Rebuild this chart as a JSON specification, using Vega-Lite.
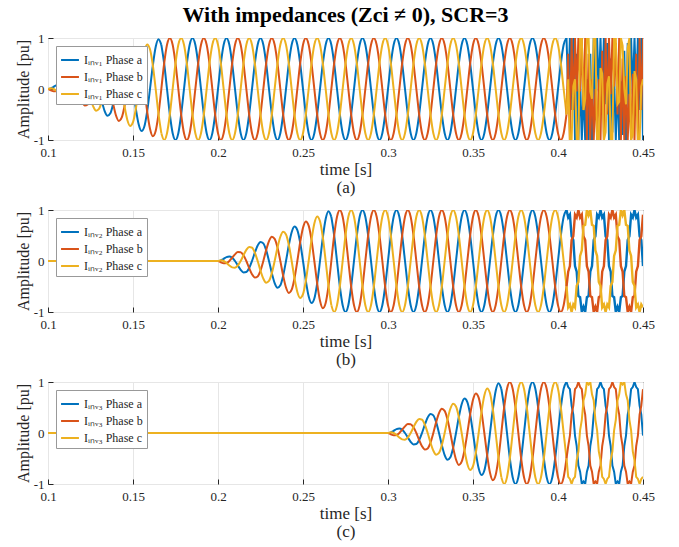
{
"$schema": "https://vega.github.io/schema/vega-lite/v6.json",
"background": "white",
"padding": {"left": 14, "top": 3, "right": 5, "bottom": 2},
"config": {
  "font": "Liberation Serif",
  "view": {"stroke": "#000000", "strokeWidth": 1},
  "axis": {"labelFont": "Liberation Serif", "titleFont": "Liberation Serif", "labelFontSize": 13, "titleFontSize": 16, "labelColor": "#262626", "titleColor": "#262626", "titleFontWeight": "normal", "grid": true, "gridColor": "#e6e6e6", "domain": false, "tickColor": "#262626", "tickSize": -5, "labelPadding": 9, "labelFlush": false},
  "legend": {"orient": "top-left", "offset": 8, "padding": 4, "fillColor": "white", "strokeColor": "#999999", "strokeWidth": 1, "symbolType": "stroke", "symbolStrokeWidth": 2, "symbolSize": 320, "labelFont": "Liberation Serif", "labelFontSize": 12, "labelColor": "#262626", "rowPadding": 1},
  "concat": {"spacing": 7}
},
"datasets": {
"r1": [
{"t":0.1,"a":0,"b":0,"c":0},
{"t":0.10167,"a":0.013,"b":-0.025,"c":0.013},
{"t":0.10333,"a":0.043,"b":-0.043,"c":0},
{"t":0.105,"a":0.075,"b":-0.038,"c":-0.038},
{"t":0.10667,"a":0.087,"b":0,"c":-0.087},
{"t":0.10833,"a":0.063,"b":0.063,"c":-0.125},
{"t":0.11,"a":0,"b":0.13,"c":-0.13},
{"t":0.11167,"a":-0.088,"b":0.175,"c":-0.088},
{"t":0.11333,"a":-0.173,"b":0.173,"c":0},
{"t":0.115,"a":-0.225,"b":0.113,"c":0.113},
{"t":0.11667,"a":-0.217,"b":0,"c":0.217},
{"t":0.11833,"a":-0.138,"b":-0.138,"c":0.275},
{"t":0.12,"a":0,"b":-0.26,"c":0.26},
{"t":0.12167,"a":0.163,"b":-0.325,"c":0.163},
{"t":0.12333,"a":0.303,"b":-0.303,"c":0},
{"t":0.125,"a":0.375,"b":-0.188,"c":-0.188},
{"t":0.12667,"a":0.346,"b":0,"c":-0.346},
{"t":0.12833,"a":0.213,"b":0.213,"c":-0.425},
{"t":0.13,"a":0,"b":0.39,"c":-0.39},
{"t":0.13167,"a":-0.238,"b":0.475,"c":-0.238},
{"t":0.13333,"a":-0.433,"b":0.433,"c":0},
{"t":0.135,"a":-0.525,"b":0.263,"c":0.263},
{"t":0.13667,"a":-0.476,"b":0,"c":0.476},
{"t":0.13833,"a":-0.288,"b":-0.288,"c":0.575},
{"t":0.14,"a":0,"b":-0.52,"c":0.52},
{"t":0.14167,"a":0.313,"b":-0.625,"c":0.313},
{"t":0.14333,"a":0.563,"b":-0.563,"c":0},
{"t":0.145,"a":0.675,"b":-0.338,"c":-0.338},
{"t":0.14667,"a":0.606,"b":0,"c":-0.606},
{"t":0.14833,"a":0.363,"b":0.363,"c":-0.725},
{"t":0.15,"a":0,"b":0.65,"c":-0.65},
{"t":0.15167,"a":-0.388,"b":0.775,"c":-0.388},
{"t":0.15333,"a":-0.693,"b":0.693,"c":0},
{"t":0.155,"a":-0.825,"b":0.413,"c":0.413},
{"t":0.15667,"a":-0.736,"b":0,"c":0.736},
{"t":0.15833,"a":-0.438,"b":-0.438,"c":0.875},
{"t":0.16,"a":0,"b":-0.779,"c":0.779},
{"t":0.16167,"a":0.463,"b":-0.925,"c":0.463},
{"t":0.16333,"a":0.823,"b":-0.823,"c":0},
{"t":0.165,"a":0.975,"b":-0.488,"c":-0.488},
{"t":0.16667,"a":0.866,"b":0,"c":-0.866}
],
"r2": [
{"t":0.1,"a":0,"b":0,"c":0},
{"t":0.2,"a":0,"b":0,"c":0},
{"t":0.20167,"a":0.013,"b":-0.025,"c":0.013},
{"t":0.20333,"a":0.043,"b":-0.043,"c":0},
{"t":0.205,"a":0.075,"b":-0.038,"c":-0.038},
{"t":0.20667,"a":0.087,"b":0,"c":-0.087},
{"t":0.20833,"a":0.063,"b":0.063,"c":-0.125},
{"t":0.21,"a":0,"b":0.13,"c":-0.13},
{"t":0.21167,"a":-0.088,"b":0.175,"c":-0.088},
{"t":0.21333,"a":-0.173,"b":0.173,"c":0},
{"t":0.215,"a":-0.225,"b":0.113,"c":0.113},
{"t":0.21667,"a":-0.217,"b":0,"c":0.217},
{"t":0.21833,"a":-0.138,"b":-0.138,"c":0.275},
{"t":0.22,"a":0,"b":-0.26,"c":0.26},
{"t":0.22167,"a":0.163,"b":-0.325,"c":0.163},
{"t":0.22333,"a":0.303,"b":-0.303,"c":0},
{"t":0.225,"a":0.375,"b":-0.188,"c":-0.188},
{"t":0.22667,"a":0.346,"b":0,"c":-0.346},
{"t":0.22833,"a":0.213,"b":0.213,"c":-0.425},
{"t":0.23,"a":0,"b":0.39,"c":-0.39},
{"t":0.23167,"a":-0.238,"b":0.475,"c":-0.238},
{"t":0.23333,"a":-0.433,"b":0.433,"c":0},
{"t":0.235,"a":-0.525,"b":0.263,"c":0.263},
{"t":0.23667,"a":-0.476,"b":0,"c":0.476},
{"t":0.23833,"a":-0.288,"b":-0.288,"c":0.575},
{"t":0.24,"a":0,"b":-0.52,"c":0.52},
{"t":0.24167,"a":0.313,"b":-0.625,"c":0.313},
{"t":0.24333,"a":0.563,"b":-0.563,"c":0},
{"t":0.245,"a":0.675,"b":-0.338,"c":-0.338},
{"t":0.24667,"a":0.606,"b":0,"c":-0.606},
{"t":0.24833,"a":0.363,"b":0.363,"c":-0.725},
{"t":0.25,"a":0,"b":0.65,"c":-0.65},
{"t":0.25167,"a":-0.388,"b":0.775,"c":-0.388},
{"t":0.25333,"a":-0.693,"b":0.693,"c":0},
{"t":0.255,"a":-0.825,"b":0.413,"c":0.413},
{"t":0.25667,"a":-0.736,"b":0,"c":0.736},
{"t":0.25833,"a":-0.438,"b":-0.438,"c":0.875},
{"t":0.26,"a":0,"b":-0.779,"c":0.779},
{"t":0.26167,"a":0.463,"b":-0.925,"c":0.463},
{"t":0.26333,"a":0.823,"b":-0.823,"c":0},
{"t":0.265,"a":0.975,"b":-0.488,"c":-0.488},
{"t":0.26667,"a":0.866,"b":0,"c":-0.866}
],
"r3": [
{"t":0.1,"a":0,"b":0,"c":0},
{"t":0.3,"a":0,"b":0,"c":0},
{"t":0.30167,"a":0.013,"b":-0.025,"c":0.013},
{"t":0.30333,"a":0.043,"b":-0.043,"c":0},
{"t":0.305,"a":0.075,"b":-0.038,"c":-0.038},
{"t":0.30667,"a":0.087,"b":0,"c":-0.087},
{"t":0.30833,"a":0.063,"b":0.063,"c":-0.125},
{"t":0.31,"a":0,"b":0.13,"c":-0.13},
{"t":0.31167,"a":-0.088,"b":0.175,"c":-0.088},
{"t":0.31333,"a":-0.173,"b":0.173,"c":0},
{"t":0.315,"a":-0.225,"b":0.113,"c":0.113},
{"t":0.31667,"a":-0.217,"b":0,"c":0.217},
{"t":0.31833,"a":-0.138,"b":-0.138,"c":0.275},
{"t":0.32,"a":0,"b":-0.26,"c":0.26},
{"t":0.32167,"a":0.163,"b":-0.325,"c":0.163},
{"t":0.32333,"a":0.303,"b":-0.303,"c":0},
{"t":0.325,"a":0.375,"b":-0.188,"c":-0.188},
{"t":0.32667,"a":0.346,"b":0,"c":-0.346},
{"t":0.32833,"a":0.213,"b":0.213,"c":-0.425},
{"t":0.33,"a":0,"b":0.39,"c":-0.39},
{"t":0.33167,"a":-0.238,"b":0.475,"c":-0.238},
{"t":0.33333,"a":-0.433,"b":0.433,"c":0},
{"t":0.335,"a":-0.525,"b":0.263,"c":0.263},
{"t":0.33667,"a":-0.476,"b":0,"c":0.476},
{"t":0.33833,"a":-0.288,"b":-0.288,"c":0.575},
{"t":0.34,"a":0,"b":-0.52,"c":0.52},
{"t":0.34167,"a":0.313,"b":-0.625,"c":0.313},
{"t":0.34333,"a":0.563,"b":-0.563,"c":0},
{"t":0.345,"a":0.675,"b":-0.338,"c":-0.338},
{"t":0.34667,"a":0.606,"b":0,"c":-0.606},
{"t":0.34833,"a":0.363,"b":0.363,"c":-0.725},
{"t":0.35,"a":0,"b":0.65,"c":-0.65},
{"t":0.35167,"a":-0.388,"b":0.775,"c":-0.388},
{"t":0.35333,"a":-0.693,"b":0.693,"c":0},
{"t":0.355,"a":-0.825,"b":0.413,"c":0.413},
{"t":0.35667,"a":-0.736,"b":0,"c":0.736},
{"t":0.35833,"a":-0.438,"b":-0.438,"c":0.875},
{"t":0.36,"a":0,"b":-0.779,"c":0.779},
{"t":0.36167,"a":0.463,"b":-0.925,"c":0.463},
{"t":0.36333,"a":0.823,"b":-0.823,"c":0},
{"t":0.365,"a":0.975,"b":-0.488,"c":-0.488},
{"t":0.36667,"a":0.866,"b":0,"c":-0.866}
],
"full": [
{"t":0.16667,"a":0.866,"b":0,"c":-0.866},
{"t":0.16833,"a":0.5,"b":0.5,"c":-1},
{"t":0.17,"a":0,"b":0.866,"c":-0.866},
{"t":0.17167,"a":-0.5,"b":1,"c":-0.5},
{"t":0.17333,"a":-0.866,"b":0.866,"c":0},
{"t":0.175,"a":-1,"b":0.5,"c":0.5},
{"t":0.17667,"a":-0.866,"b":0,"c":0.866},
{"t":0.17833,"a":-0.5,"b":-0.5,"c":1},
{"t":0.18,"a":0,"b":-0.866,"c":0.866},
{"t":0.18167,"a":0.5,"b":-1,"c":0.5},
{"t":0.18333,"a":0.866,"b":-0.866,"c":0},
{"t":0.185,"a":1,"b":-0.5,"c":-0.5},
{"t":0.18667,"a":0.866,"b":0,"c":-0.866},
{"t":0.18833,"a":0.5,"b":0.5,"c":-1},
{"t":0.19,"a":0,"b":0.866,"c":-0.866},
{"t":0.19167,"a":-0.5,"b":1,"c":-0.5},
{"t":0.19333,"a":-0.866,"b":0.866,"c":0},
{"t":0.195,"a":-1,"b":0.5,"c":0.5},
{"t":0.19667,"a":-0.866,"b":0,"c":0.866},
{"t":0.19833,"a":-0.5,"b":-0.5,"c":1},
{"t":0.2,"a":0,"b":-0.866,"c":0.866},
{"t":0.20167,"a":0.5,"b":-1,"c":0.5},
{"t":0.20333,"a":0.866,"b":-0.866,"c":0},
{"t":0.205,"a":1,"b":-0.5,"c":-0.5},
{"t":0.20667,"a":0.866,"b":0,"c":-0.866},
{"t":0.20833,"a":0.5,"b":0.5,"c":-1},
{"t":0.21,"a":0,"b":0.866,"c":-0.866},
{"t":0.21167,"a":-0.5,"b":1,"c":-0.5},
{"t":0.21333,"a":-0.866,"b":0.866,"c":0},
{"t":0.215,"a":-1,"b":0.5,"c":0.5},
{"t":0.21667,"a":-0.866,"b":0,"c":0.866},
{"t":0.21833,"a":-0.5,"b":-0.5,"c":1},
{"t":0.22,"a":0,"b":-0.866,"c":0.866},
{"t":0.22167,"a":0.5,"b":-1,"c":0.5},
{"t":0.22333,"a":0.866,"b":-0.866,"c":0},
{"t":0.225,"a":1,"b":-0.5,"c":-0.5},
{"t":0.22667,"a":0.866,"b":0,"c":-0.866},
{"t":0.22833,"a":0.5,"b":0.5,"c":-1},
{"t":0.23,"a":0,"b":0.866,"c":-0.866},
{"t":0.23167,"a":-0.5,"b":1,"c":-0.5},
{"t":0.23333,"a":-0.866,"b":0.866,"c":0},
{"t":0.235,"a":-1,"b":0.5,"c":0.5},
{"t":0.23667,"a":-0.866,"b":0,"c":0.866},
{"t":0.23833,"a":-0.5,"b":-0.5,"c":1},
{"t":0.24,"a":0,"b":-0.866,"c":0.866},
{"t":0.24167,"a":0.5,"b":-1,"c":0.5},
{"t":0.24333,"a":0.866,"b":-0.866,"c":0},
{"t":0.245,"a":1,"b":-0.5,"c":-0.5},
{"t":0.24667,"a":0.866,"b":0,"c":-0.866},
{"t":0.24833,"a":0.5,"b":0.5,"c":-1},
{"t":0.25,"a":0,"b":0.866,"c":-0.866},
{"t":0.25167,"a":-0.5,"b":1,"c":-0.5},
{"t":0.25333,"a":-0.866,"b":0.866,"c":0},
{"t":0.255,"a":-1,"b":0.5,"c":0.5},
{"t":0.25667,"a":-0.866,"b":0,"c":0.866},
{"t":0.25833,"a":-0.5,"b":-0.5,"c":1},
{"t":0.26,"a":0,"b":-0.866,"c":0.866},
{"t":0.26167,"a":0.5,"b":-1,"c":0.5},
{"t":0.26333,"a":0.866,"b":-0.866,"c":0},
{"t":0.265,"a":1,"b":-0.5,"c":-0.5},
{"t":0.26667,"a":0.866,"b":0,"c":-0.866},
{"t":0.26833,"a":0.5,"b":0.5,"c":-1},
{"t":0.27,"a":0,"b":0.866,"c":-0.866},
{"t":0.27167,"a":-0.5,"b":1,"c":-0.5},
{"t":0.27333,"a":-0.866,"b":0.866,"c":0},
{"t":0.275,"a":-1,"b":0.5,"c":0.5},
{"t":0.27667,"a":-0.866,"b":0,"c":0.866},
{"t":0.27833,"a":-0.5,"b":-0.5,"c":1},
{"t":0.28,"a":0,"b":-0.866,"c":0.866},
{"t":0.28167,"a":0.5,"b":-1,"c":0.5},
{"t":0.28333,"a":0.866,"b":-0.866,"c":0},
{"t":0.285,"a":1,"b":-0.5,"c":-0.5},
{"t":0.28667,"a":0.866,"b":0,"c":-0.866},
{"t":0.28833,"a":0.5,"b":0.5,"c":-1},
{"t":0.29,"a":0,"b":0.866,"c":-0.866},
{"t":0.29167,"a":-0.5,"b":1,"c":-0.5},
{"t":0.29333,"a":-0.866,"b":0.866,"c":0},
{"t":0.295,"a":-1,"b":0.5,"c":0.5},
{"t":0.29667,"a":-0.866,"b":0,"c":0.866},
{"t":0.29833,"a":-0.5,"b":-0.5,"c":1},
{"t":0.3,"a":0,"b":-0.866,"c":0.866},
{"t":0.30167,"a":0.5,"b":-1,"c":0.5},
{"t":0.30333,"a":0.866,"b":-0.866,"c":0},
{"t":0.305,"a":1,"b":-0.5,"c":-0.5},
{"t":0.30667,"a":0.866,"b":0,"c":-0.866},
{"t":0.30833,"a":0.5,"b":0.5,"c":-1},
{"t":0.31,"a":0,"b":0.866,"c":-0.866},
{"t":0.31167,"a":-0.5,"b":1,"c":-0.5},
{"t":0.31333,"a":-0.866,"b":0.866,"c":0},
{"t":0.315,"a":-1,"b":0.5,"c":0.5},
{"t":0.31667,"a":-0.866,"b":0,"c":0.866},
{"t":0.31833,"a":-0.5,"b":-0.5,"c":1},
{"t":0.32,"a":0,"b":-0.866,"c":0.866},
{"t":0.32167,"a":0.5,"b":-1,"c":0.5},
{"t":0.32333,"a":0.866,"b":-0.866,"c":0},
{"t":0.325,"a":1,"b":-0.5,"c":-0.5},
{"t":0.32667,"a":0.866,"b":0,"c":-0.866},
{"t":0.32833,"a":0.5,"b":0.5,"c":-1},
{"t":0.33,"a":0,"b":0.866,"c":-0.866},
{"t":0.33167,"a":-0.5,"b":1,"c":-0.5},
{"t":0.33333,"a":-0.866,"b":0.866,"c":0},
{"t":0.335,"a":-1,"b":0.5,"c":0.5},
{"t":0.33667,"a":-0.866,"b":0,"c":0.866},
{"t":0.33833,"a":-0.5,"b":-0.5,"c":1},
{"t":0.34,"a":0,"b":-0.866,"c":0.866},
{"t":0.34167,"a":0.5,"b":-1,"c":0.5},
{"t":0.34333,"a":0.866,"b":-0.866,"c":0},
{"t":0.345,"a":1,"b":-0.5,"c":-0.5},
{"t":0.34667,"a":0.866,"b":0,"c":-0.866},
{"t":0.34833,"a":0.5,"b":0.5,"c":-1},
{"t":0.35,"a":0,"b":0.866,"c":-0.866},
{"t":0.35167,"a":-0.5,"b":1,"c":-0.5},
{"t":0.35333,"a":-0.866,"b":0.866,"c":0},
{"t":0.355,"a":-1,"b":0.5,"c":0.5},
{"t":0.35667,"a":-0.866,"b":0,"c":0.866},
{"t":0.35833,"a":-0.5,"b":-0.5,"c":1},
{"t":0.36,"a":0,"b":-0.866,"c":0.866},
{"t":0.36167,"a":0.5,"b":-1,"c":0.5},
{"t":0.36333,"a":0.866,"b":-0.866,"c":0},
{"t":0.365,"a":1,"b":-0.5,"c":-0.5},
{"t":0.36667,"a":0.866,"b":0,"c":-0.866},
{"t":0.36833,"a":0.5,"b":0.5,"c":-1},
{"t":0.37,"a":0,"b":0.866,"c":-0.866},
{"t":0.37167,"a":-0.5,"b":1,"c":-0.5},
{"t":0.37333,"a":-0.866,"b":0.866,"c":0},
{"t":0.375,"a":-1,"b":0.5,"c":0.5},
{"t":0.37667,"a":-0.866,"b":0,"c":0.866},
{"t":0.37833,"a":-0.5,"b":-0.5,"c":1},
{"t":0.38,"a":0,"b":-0.866,"c":0.866},
{"t":0.38167,"a":0.5,"b":-1,"c":0.5},
{"t":0.38333,"a":0.866,"b":-0.866,"c":0},
{"t":0.385,"a":1,"b":-0.5,"c":-0.5},
{"t":0.38667,"a":0.866,"b":0,"c":-0.866},
{"t":0.38833,"a":0.5,"b":0.5,"c":-1},
{"t":0.39,"a":0,"b":0.866,"c":-0.866},
{"t":0.39167,"a":-0.5,"b":1,"c":-0.5},
{"t":0.39333,"a":-0.866,"b":0.866,"c":0},
{"t":0.395,"a":-1,"b":0.5,"c":0.5},
{"t":0.39667,"a":-0.866,"b":0,"c":0.866},
{"t":0.39833,"a":-0.5,"b":-0.5,"c":1},
{"t":0.4,"a":0,"b":-0.866,"c":0.866},
{"t":0.40167,"a":0.5,"b":-1,"c":0.5},
{"t":0.40333,"a":0.866,"b":-0.866,"c":0},
{"t":0.405,"a":1,"b":-0.5,"c":-0.5}
],
"n1": [
{"t":0.405,"a":1,"b":-0.5,"c":-0.5},
{"t":0.406,"a":-0.049,"b":0.691,"c":0.191},
{"t":0.407,"a":1,"b":-1,"c":-1},
{"t":0.408,"a":-0.412,"b":1,"c":-1},
{"t":0.409,"a":1,"b":-0.412,"c":0.049},
{"t":0.41,"a":-1,"b":1,"c":0.191},
{"t":0.411,"a":0.691,"b":-0.049,"c":-1},
{"t":0.412,"a":-1,"b":1,"c":-1},
{"t":0.413,"a":0.191,"b":-0.049,"c":1},
{"t":0.414,"a":-1,"b":1,"c":1},
{"t":0.415,"a":0,"b":-0.412,"c":-0.412},
{"t":0.416,"a":-1,"b":1,"c":-0.191},
{"t":0.417,"a":0.191,"b":-1,"c":1},
{"t":0.418,"a":-1,"b":0.691,"c":1},
{"t":0.419,"a":0.691,"b":-1,"c":-0.049},
{"t":0.42,"a":-1,"b":0.191,"c":-0.191},
{"t":0.421,"a":1,"b":-1,"c":1},
{"t":0.422,"a":-0.412,"b":0,"c":1},
{"t":0.423,"a":1,"b":-1,"c":-1},
{"t":0.424,"a":-0.049,"b":0.191,"c":-1},
{"t":0.425,"a":1,"b":-1,"c":0.412},
{"t":0.426,"a":-0.15,"b":0.75,"c":0.3},
{"t":0.427,"a":1,"b":-1,"c":-1},
{"t":0.428,"a":-0.3,"b":1,"c":-0.85},
{"t":0.429,"a":0.9,"b":-0.5,"c":0.1},
{"t":0.43,"a":-1,"b":1,"c":0.25},
{"t":0.431,"a":0.6,"b":-0.1,"c":-1},
{"t":0.432,"a":-0.85,"b":1,"c":-1},
{"t":0.433,"a":0.25,"b":0.05,"c":1},
{"t":0.434,"a":-1,"b":0.9,"c":1},
{"t":0.435,"a":0.1,"b":-0.5,"c":-0.3},
{"t":0.436,"a":-1,"b":1,"c":-0.25},
{"t":0.437,"a":0.15,"b":-1,"c":1},
{"t":0.438,"a":-0.9,"b":0.6,"c":0.85},
{"t":0.439,"a":0.75,"b":-1,"c":0},
{"t":0.44,"a":-1,"b":0.25,"c":-0.3},
{"t":0.441,"a":0.9,"b":-1,"c":0.8},
{"t":0.442,"a":-0.35,"b":-0.1,"c":1},
{"t":0.443,"a":1,"b":-1,"c":-1},
{"t":0.444,"a":-0.1,"b":0.3,"c":-0.9},
{"t":0.445,"a":1,"b":-1,"c":0.35},
{"t":0.446,"a":-0.049,"b":0.691,"c":0.191},
{"t":0.447,"a":1,"b":-1,"c":-1},
{"t":0.448,"a":-0.412,"b":1,"c":-1},
{"t":0.449,"a":1,"b":-0.412,"c":0.049},
{"t":0.45,"a":-1,"b":1,"c":0.191}
],
"n2": [
{"t":0.405,"a":1,"b":-0.5,"c":-0.5},
{"t":0.406,"a":0.851,"b":-0.209,"c":-0.909},
{"t":0.407,"a":0.909,"b":-0.1,"c":-0.851},
{"t":0.408,"a":0.488,"b":0.409,"c":-1},
{"t":0.409,"a":0.409,"b":0.488,"c":-0.851},
{"t":0.41,"a":-0.1,"b":0.909,"c":-0.909},
{"t":0.411,"a":-0.209,"b":0.851,"c":-0.488},
{"t":0.412,"a":-0.688,"b":1,"c":-0.409},
{"t":0.413,"a":-0.709,"b":0.851,"c":0.1},
{"t":0.414,"a":-1,"b":0.909,"c":0.209},
{"t":0.415,"a":-0.9,"b":0.488,"c":0.688},
{"t":0.416,"a":-1,"b":0.409,"c":0.709},
{"t":0.417,"a":-0.709,"b":-0.1,"c":1},
{"t":0.418,"a":-0.688,"b":-0.209,"c":0.9},
{"t":0.419,"a":-0.209,"b":-0.688,"c":1},
{"t":0.42,"a":-0.1,"b":-0.709,"c":0.709},
{"t":0.421,"a":0.409,"b":-1,"c":0.688},
{"t":0.422,"a":0.488,"b":-0.9,"c":0.209},
{"t":0.423,"a":0.909,"b":-1,"c":0.1},
{"t":0.424,"a":0.851,"b":-0.709,"c":-0.409},
{"t":0.425,"a":1,"b":-0.688,"c":-0.488},
{"t":0.426,"a":0.851,"b":-0.209,"c":-0.909},
{"t":0.427,"a":0.909,"b":-0.1,"c":-0.851},
{"t":0.428,"a":0.488,"b":0.409,"c":-1},
{"t":0.429,"a":0.409,"b":0.488,"c":-0.851},
{"t":0.43,"a":-0.1,"b":0.909,"c":-0.909},
{"t":0.431,"a":-0.209,"b":0.851,"c":-0.488},
{"t":0.432,"a":-0.688,"b":1,"c":-0.409},
{"t":0.433,"a":-0.709,"b":0.851,"c":0.1},
{"t":0.434,"a":-1,"b":0.909,"c":0.209},
{"t":0.435,"a":-0.9,"b":0.488,"c":0.688},
{"t":0.436,"a":-1,"b":0.409,"c":0.709},
{"t":0.437,"a":-0.709,"b":-0.1,"c":1},
{"t":0.438,"a":-0.688,"b":-0.209,"c":0.9},
{"t":0.439,"a":-0.209,"b":-0.688,"c":1},
{"t":0.44,"a":-0.1,"b":-0.709,"c":0.709},
{"t":0.441,"a":0.409,"b":-1,"c":0.688},
{"t":0.442,"a":0.488,"b":-0.9,"c":0.209},
{"t":0.443,"a":0.909,"b":-1,"c":0.1},
{"t":0.444,"a":0.851,"b":-0.709,"c":-0.409},
{"t":0.445,"a":1,"b":-0.688,"c":-0.488},
{"t":0.446,"a":0.851,"b":-0.209,"c":-0.909},
{"t":0.447,"a":0.909,"b":-0.1,"c":-0.851},
{"t":0.448,"a":0.488,"b":0.409,"c":-1},
{"t":0.449,"a":0.409,"b":0.488,"c":-0.851},
{"t":0.45,"a":-0.1,"b":0.909,"c":-0.909}
],
"n3": [
{"t":0.405,"a":1,"b":-0.5,"c":-0.5},
{"t":0.406,"a":0.901,"b":-0.259,"c":-0.859},
{"t":0.407,"a":0.859,"b":-0.05,"c":-0.901},
{"t":0.408,"a":0.538,"b":0.359,"c":-1},
{"t":0.409,"a":0.359,"b":0.538,"c":-0.901},
{"t":0.41,"a":-0.05,"b":0.859,"c":-0.859},
{"t":0.411,"a":-0.259,"b":0.901,"c":-0.538},
{"t":0.412,"a":-0.638,"b":1,"c":-0.359},
{"t":0.413,"a":-0.759,"b":0.901,"c":0.05},
{"t":0.414,"a":-1,"b":0.859,"c":0.259},
{"t":0.415,"a":-0.95,"b":0.538,"c":0.638},
{"t":0.416,"a":-1,"b":0.359,"c":0.759},
{"t":0.417,"a":-0.759,"b":-0.05,"c":1},
{"t":0.418,"a":-0.638,"b":-0.259,"c":0.95},
{"t":0.419,"a":-0.259,"b":-0.638,"c":1},
{"t":0.42,"a":-0.05,"b":-0.759,"c":0.759},
{"t":0.421,"a":0.359,"b":-1,"c":0.638},
{"t":0.422,"a":0.538,"b":-0.95,"c":0.259},
{"t":0.423,"a":0.859,"b":-1,"c":0.05},
{"t":0.424,"a":0.901,"b":-0.759,"c":-0.359},
{"t":0.425,"a":1,"b":-0.638,"c":-0.538},
{"t":0.426,"a":0.901,"b":-0.259,"c":-0.859},
{"t":0.427,"a":0.859,"b":-0.05,"c":-0.901},
{"t":0.428,"a":0.538,"b":0.359,"c":-1},
{"t":0.429,"a":0.359,"b":0.538,"c":-0.901},
{"t":0.43,"a":-0.05,"b":0.859,"c":-0.859},
{"t":0.431,"a":-0.259,"b":0.901,"c":-0.538},
{"t":0.432,"a":-0.638,"b":1,"c":-0.359},
{"t":0.433,"a":-0.759,"b":0.901,"c":0.05},
{"t":0.434,"a":-1,"b":0.859,"c":0.259},
{"t":0.435,"a":-0.95,"b":0.538,"c":0.638},
{"t":0.436,"a":-1,"b":0.359,"c":0.759},
{"t":0.437,"a":-0.759,"b":-0.05,"c":1},
{"t":0.438,"a":-0.638,"b":-0.259,"c":0.95},
{"t":0.439,"a":-0.259,"b":-0.638,"c":1},
{"t":0.44,"a":-0.05,"b":-0.759,"c":0.759},
{"t":0.441,"a":0.359,"b":-1,"c":0.638},
{"t":0.442,"a":0.538,"b":-0.95,"c":0.259},
{"t":0.443,"a":0.859,"b":-1,"c":0.05},
{"t":0.444,"a":0.901,"b":-0.759,"c":-0.359},
{"t":0.445,"a":1,"b":-0.638,"c":-0.538},
{"t":0.446,"a":0.901,"b":-0.259,"c":-0.859},
{"t":0.447,"a":0.859,"b":-0.05,"c":-0.901},
{"t":0.448,"a":0.538,"b":0.359,"c":-1},
{"t":0.449,"a":0.359,"b":0.538,"c":-0.901},
{"t":0.45,"a":-0.05,"b":0.859,"c":-0.859}
]
},
"resolve": {"scale": {"color": "independent"}, "legend": {"color": "independent"}},
"vconcat": [
{
  "width": 595, "height": 102,
  "title": {"text": "With impedances (Zci ≠ 0), SCR=3", "font": "Liberation Serif", "fontSize": 22, "fontWeight": "bold", "color": "#000000", "anchor": "middle", "frame": "group", "offset": 5},
  "encoding": {
    "x": {"field": "t", "type": "quantitative", "scale": {"domain": [0.1, 0.45], "nice": false, "zero": false}, "axis": {"values": [0.1, 0.15, 0.2, 0.25, 0.3, 0.35, 0.4, 0.45], "labelExpr": "''+datum.value", "labelPadding": 11, "title": ["time [s]", "(a)"], "titleFontSize": 17, "titleLineHeight": 18, "titlePadding": 2}},
    "y": {"field": "v", "type": "quantitative", "scale": {"domain": [-1, 1], "nice": false}, "axis": {"values": [-1, 0, 1], "labelExpr": "''+datum.value", "title": "Amplitude [pu]", "titlePadding": 2}},
    "color": {"field": "phase", "type": "nominal", "scale": {"domain": ["a", "b", "c"], "range": ["#0072BD", "#D95319", "#EDB120"]}, "legend": {"title": null, "labelExpr": "'Iᵢₙᵥ₁ Phase ' + datum.label"}}
  },
  "layer": [
    {"data": {"name": "r1"}, "transform": [{"fold": ["a", "b", "c"], "as": ["phase", "v"]}], "mark": {"type": "line", "interpolate": "monotone", "strokeWidth": 2, "clip": true}},
    {"data": {"name": "full"}, "transform": [{"fold": ["a", "b", "c"], "as": ["phase", "v"]}], "mark": {"type": "line", "interpolate": "monotone", "strokeWidth": 2, "clip": true}},
    {"data": {"name": "n1"}, "transform": [{"fold": ["a", "b", "c"], "as": ["phase", "v"]}], "mark": {"type": "line", "interpolate": "linear", "strokeWidth": 2, "clip": true}}
  ]
},
{
  "width": 595, "height": 102,
  "encoding": {
    "x": {"field": "t", "type": "quantitative", "scale": {"domain": [0.1, 0.45], "nice": false, "zero": false}, "axis": {"values": [0.1, 0.15, 0.2, 0.25, 0.3, 0.35, 0.4, 0.45], "labelExpr": "''+datum.value", "labelPadding": 11, "title": ["time [s]", "(b)"], "titleFontSize": 17, "titleLineHeight": 18, "titlePadding": 2}},
    "y": {"field": "v", "type": "quantitative", "scale": {"domain": [-1, 1], "nice": false}, "axis": {"values": [-1, 0, 1], "labelExpr": "''+datum.value", "title": "Amplitude [pu]", "titlePadding": 2}},
    "color": {"field": "phase", "type": "nominal", "scale": {"domain": ["a", "b", "c"], "range": ["#0072BD", "#D95319", "#EDB120"]}, "legend": {"title": null, "labelExpr": "'Iᵢₙᵥ₂ Phase ' + datum.label"}}
  },
  "layer": [
    {"data": {"name": "r2"}, "transform": [{"fold": ["a", "b", "c"], "as": ["phase", "v"]}], "mark": {"type": "line", "interpolate": "monotone", "strokeWidth": 2, "clip": true}},
    {"data": {"name": "full"}, "transform": [{"filter": "datum.t >= 0.2666"}, {"fold": ["a", "b", "c"], "as": ["phase", "v"]}], "mark": {"type": "line", "interpolate": "monotone", "strokeWidth": 2, "clip": true}},
    {"data": {"name": "n2"}, "transform": [{"fold": ["a", "b", "c"], "as": ["phase", "v"]}], "mark": {"type": "line", "interpolate": "linear", "strokeWidth": 2.4, "clip": true}}
  ]
},
{
  "width": 595, "height": 102,
  "encoding": {
    "x": {"field": "t", "type": "quantitative", "scale": {"domain": [0.1, 0.45], "nice": false, "zero": false}, "axis": {"values": [0.1, 0.15, 0.2, 0.25, 0.3, 0.35, 0.4, 0.45], "labelExpr": "''+datum.value", "labelPadding": 11, "title": ["time [s]", "(c)"], "titleFontSize": 17, "titleLineHeight": 18, "titlePadding": 2}},
    "y": {"field": "v", "type": "quantitative", "scale": {"domain": [-1, 1], "nice": false}, "axis": {"values": [-1, 0, 1], "labelExpr": "''+datum.value", "title": "Amplitude [pu]", "titlePadding": 2}},
    "color": {"field": "phase", "type": "nominal", "scale": {"domain": ["a", "b", "c"], "range": ["#0072BD", "#D95319", "#EDB120"]}, "legend": {"title": null, "labelExpr": "'Iᵢₙᵥ₃ Phase ' + datum.label"}}
  },
  "layer": [
    {"data": {"name": "r3"}, "transform": [{"fold": ["a", "b", "c"], "as": ["phase", "v"]}], "mark": {"type": "line", "interpolate": "monotone", "strokeWidth": 2, "clip": true}},
    {"data": {"name": "full"}, "transform": [{"filter": "datum.t >= 0.3666"}, {"fold": ["a", "b", "c"], "as": ["phase", "v"]}], "mark": {"type": "line", "interpolate": "monotone", "strokeWidth": 2, "clip": true}},
    {"data": {"name": "n3"}, "transform": [{"fold": ["a", "b", "c"], "as": ["phase", "v"]}], "mark": {"type": "line", "interpolate": "linear", "strokeWidth": 2, "clip": true}}
  ]
}
]
}
